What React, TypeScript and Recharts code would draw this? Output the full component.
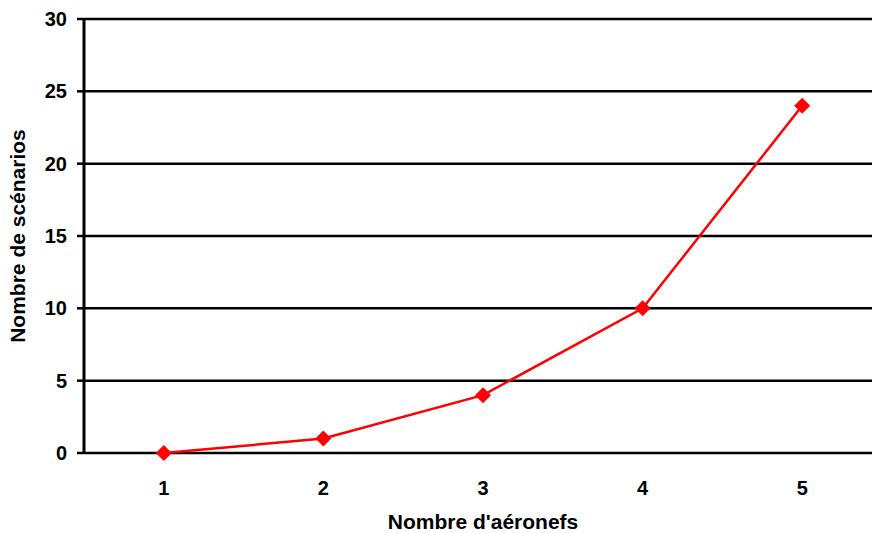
import React from 'react';
import { LineChart, Line, XAxis, YAxis, CartesianGrid } from 'recharts';

const aircraftCounts = [1, 2, 3, 4, 5];
const scenarioCounts = [0, 1, 4, 10, 24];
const yTicks = [0, 5, 10, 15, 20, 25, 30];
const xLabelTicks = [1, 2, 3, 4, 5];
const xMarkTicks = [0.5, 1.5, 2.5, 3.5, 4.5, 5.5];
const xTitle = "Nombre d'aéronefs";
const yTitle = 'Nombre de scénarios';

const data = aircraftCounts.map((n, i) => ({ n, v: scenarioCounts[i] }));

const FONT = 'Liberation Sans, Arial, Helvetica, sans-serif';

const Diamond = (props: any) => {
  const { cx, cy } = props;
  if (cx == null || cy == null) return null;
  const r = 8;
  return (
    <path
      d={`M${cx},${cy - r} L${cx + r},${cy} L${cx},${cy + r} L${cx - r},${cy} Z`}
      fill="#FF0000"
      stroke="none"
    />
  );
};

export default function App() {
  return (
    <div style={{ position: 'fixed', left: 0, top: 0, width: 872, height: 533, overflow: 'hidden', background: '#fff' }}>
      <LineChart
        width={890}
        height={533}
        data={data}
        margin={{ top: 19, right: 8, left: 0, bottom: 30 }}
      >
        <CartesianGrid vertical={false} stroke="#000" strokeWidth={2.5} />
        <XAxis
          xAxisId="marks"
          dataKey="n"
          type="number"
          domain={[0.5, 5.5]}
          ticks={xMarkTicks}
          tick={false}
          tickSize={8}
          height={0}
          axisLine={{ stroke: '#000', strokeWidth: 3 }}
          tickLine={{ stroke: '#000', strokeWidth: 2.5 }}
        />
        <XAxis
          xAxisId="labels"
          dataKey="n"
          type="number"
          domain={[0.5, 5.5]}
          ticks={xLabelTicks}
          tickSize={0}
          tickMargin={28}
          tickLine={false}
          axisLine={false}
          height={50}
          tick={{ fill: '#000', fontSize: 20, fontWeight: 'bold', fontFamily: FONT }}
          label={(p: any) => {
            const vb = p.viewBox;
            return (
              <text
                x={vb.x + vb.width / 2}
                y={529}
                textAnchor="middle"
                fill="#000"
                fontSize={21}
                fontWeight="bold"
                fontFamily={FONT}
              >
                {xTitle}
              </text>
            );
          }}
        />
        <YAxis
          domain={[0, 30]}
          ticks={yTicks}
          width={84}
          tickSize={7}
          tickMargin={10}
          axisLine={{ stroke: '#000', strokeWidth: 3 }}
          tickLine={{ stroke: '#000', strokeWidth: 2.5 }}
          tick={{ fill: '#000', fontSize: 20, fontWeight: 'bold', fontFamily: FONT }}
          label={(p: any) => {
            const vb = p.viewBox;
            const cx = 25;
            const cy = vb.y + vb.height / 2;
            return (
              <text
                x={cx}
                y={cy}
                transform={`rotate(-90, ${cx}, ${cy})`}
                textAnchor="middle"
                fill="#000"
                fontSize={21}
                fontWeight="bold"
                fontFamily={FONT}
              >
                {yTitle}
              </text>
            );
          }}
        />
        <Line
          xAxisId="labels"
          dataKey="v"
          stroke="#FF0000"
          strokeWidth={2.5}
          dot={<Diamond />}
          activeDot={false}
          isAnimationActive={false}
          type="linear"
        />
      </LineChart>
    </div>
  );
}
